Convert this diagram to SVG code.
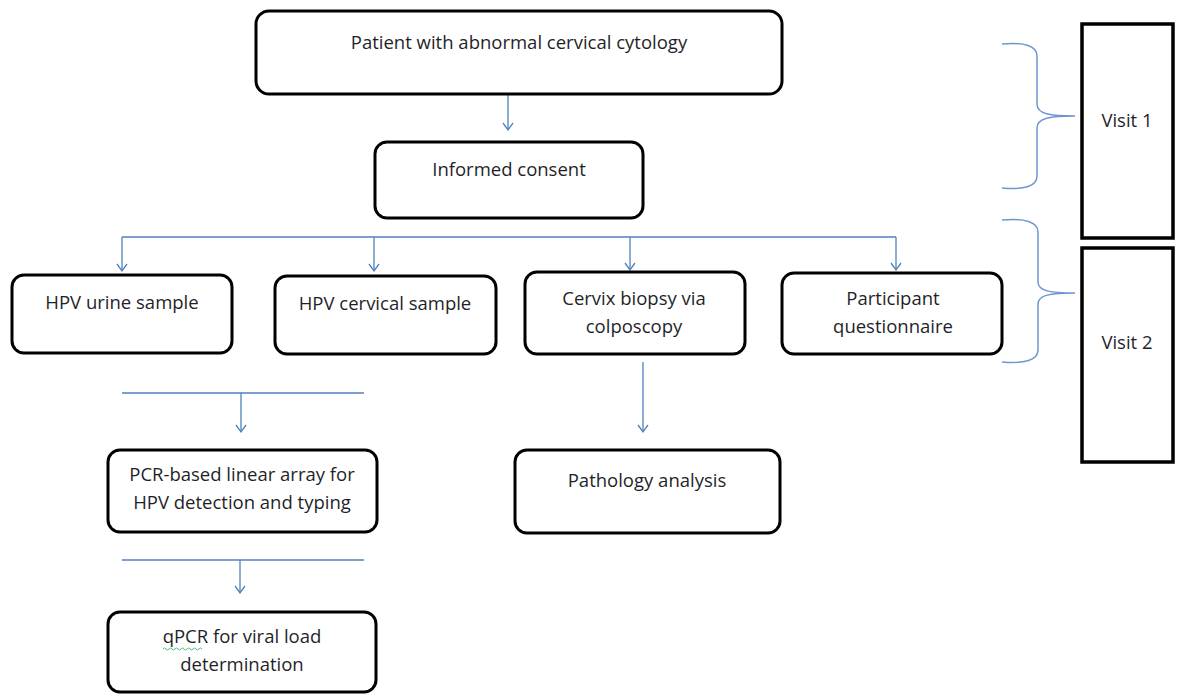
<svg xmlns="http://www.w3.org/2000/svg" width="1177" height="694" viewBox="0 0 1177 694">
<defs>
<marker id="arr" markerWidth="12" markerHeight="12" refX="10" refY="6" orient="auto" markerUnits="userSpaceOnUse" viewBox="0 0 12 12">
<path d="M3,1 L10,6 L3,11" fill="none" stroke="#4f81bd" stroke-width="1.3"/>
</marker>
<style>
.box{fill:#fff;stroke:#000;stroke-width:3}
.vbox{fill:#fff;stroke:#000;stroke-width:3.5}
.t{font-family:"Open Sans","Liberation Sans",sans-serif;font-size:18.5px;fill:#1f1f2a;text-anchor:middle}
.c{fill:none;stroke:#4f81bd;stroke-width:1.3}
.br{fill:none;stroke:#6f97cf;stroke-width:1.5}
</style>
</defs>
<rect width="1177" height="694" fill="#fff"/>
<g id="connectors">
<line class="c" x1="508" y1="94" x2="508" y2="130" marker-end="url(#arr)"/>
<line class="c" x1="122" y1="237" x2="896" y2="237"/>
<line class="c" x1="122" y1="237" x2="122" y2="271" marker-end="url(#arr)"/>
<line class="c" x1="374" y1="237" x2="374" y2="271" marker-end="url(#arr)"/>
<line class="c" x1="630" y1="237" x2="630" y2="270" marker-end="url(#arr)"/>
<line class="c" x1="896" y1="237" x2="896" y2="270" marker-end="url(#arr)"/>
<line class="c" x1="122" y1="393" x2="364" y2="393"/>
<line class="c" x1="241" y1="393" x2="241" y2="432" marker-end="url(#arr)"/>
<line class="c" x1="122" y1="560" x2="364" y2="560"/>
<line class="c" x1="240" y1="560" x2="240" y2="593" marker-end="url(#arr)"/>
<line class="c" x1="643" y1="362" x2="643" y2="432" marker-end="url(#arr)"/>
<path class="br" d="M1002,44 C1025,42 1037,46 1037,56 L1037,104 C1037,114 1050,116 1075,116 C1050,116 1037,118 1037,128 L1037,176 C1037,186 1025,190 1002,188"/>
<path class="br" d="M1002,220 C1025,218 1038,222 1038,232 L1038,282 C1038,291 1050,293 1075,293 C1050,293 1038,295 1038,304 L1038,350 C1038,360 1025,364 1002,362"/>
</g>
<g id="n_patient">
<rect class="box" x="256" y="11" width="526" height="83" rx="13"/>
<text class="t" x="519" y="49">Patient with abnormal cervical cytology</text>
</g>
<g id="n_consent">
<rect class="box" x="375" y="142" width="268" height="76" rx="12"/>
<text class="t" x="509" y="176">Informed consent</text>
</g>
<g id="n_urine">
<rect class="box" x="12" y="275" width="220" height="78" rx="12"/>
<text class="t" x="122" y="309">HPV urine sample</text>
</g>
<g id="n_cervical">
<rect class="box" x="275" y="276" width="221" height="78" rx="12"/>
<text class="t" x="385" y="310">HPV cervical sample</text>
</g>
<g id="n_biopsy">
<rect class="box" x="525" y="272" width="220" height="82" rx="12"/>
<text class="t" x="634" y="305">Cervix biopsy via</text>
<text class="t" x="634" y="333">colposcopy</text>
</g>
<g id="n_questionnaire">
<rect class="box" x="782" y="273" width="220" height="81" rx="12"/>
<text class="t" x="893" y="305">Participant</text>
<text class="t" x="893" y="333">questionnaire</text>
</g>
<g id="n_pcr">
<rect class="box" x="108" y="450" width="269" height="82" rx="12"/>
<text class="t" x="242" y="481">PCR-based linear array for</text>
<text class="t" x="242" y="509">HPV detection and typing</text>
</g>
<g id="n_qpcr">
<rect class="box" x="108" y="612" width="268" height="80" rx="12"/>
<text class="t" x="242" y="643">qPCR for viral load</text>
<text class="t" x="242" y="671">determination</text>
<path d="M163,649 q1.5,-2 3,0 t3,0 t3,0 t3,0 t3,0 t3,0 t3,0 t3,0 t3,0 t3,0 t3,0 t3,0 t3,0" fill="none" stroke="#3cb371" stroke-width="0.9"/>
</g>
<g id="n_pathology">
<rect class="box" x="515" y="450" width="265" height="83" rx="12"/>
<text class="t" x="647" y="487">Pathology analysis</text>
</g>
<g id="n_visit1">
<rect class="vbox" x="1082" y="24" width="91" height="214"/>
<text class="t" x="1127" y="127">Visit 1</text>
</g>
<g id="n_visit2">
<rect class="vbox" x="1082" y="248" width="91" height="214"/>
<text class="t" x="1127" y="349">Visit 2</text>
</g>
</svg>
